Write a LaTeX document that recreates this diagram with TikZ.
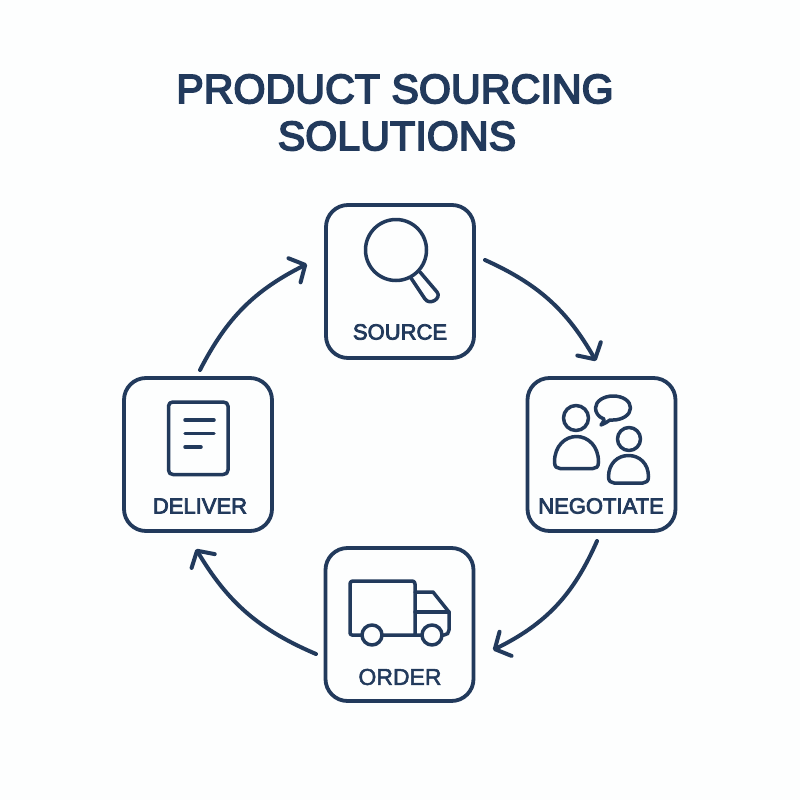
\documentclass[tikz,border=0pt]{standalone}
\usepackage{fontspec}
\setmainfont{Liberation Sans}
\newfontfamily\capfont[FakeBold=3.6]{Liberation Sans}
\newfontfamily\ordfont[FakeBold=2.2]{Liberation Sans}
\newfontfamily\headfont[FakeBold=4.2,LetterSpace=0.4]{Liberation Sans}
\usetikzlibrary{arrows.meta,positioning}
\definecolor{navy}{HTML}{223A5C}
\definecolor{paper}{HTML}{FDFEFE}
\tikzset{
  x=1pt,y=-1pt,
  card/.style={draw=navy,line width=3.8pt,rounded corners=22pt,minimum width=148pt,minimum height=153pt,inner sep=0pt},
  glyph/.style={draw=navy,line width=3.5pt,line join=round,line cap=round},
  flow/.style={draw=navy,line width=4pt,line cap=round,-{Straight Barb[length=12pt,width=27pt,line width=4pt,round]}},
  caption/.style={text=navy,font=\fontsize{22}{24}\capfont,inner sep=0pt,anchor=center},
  ordcaption/.style={text=navy,font=\fontsize{23}{24}\ordfont,inner sep=0pt,anchor=center},
  titleline/.style={text=navy,font=\fontsize{41}{46}\headfont,inner sep=0pt,anchor=center}
}
\begin{document}
\begin{tikzpicture}
\path[use as bounding box,fill=paper] (0,0) rectangle (800,800);
\node[titleline] (t1) at (395,89) {PRODUCT SOURCING};
\node[titleline] (t2) at (397,136) {SOLUTIONS};
\node[card] (source) at (400,281.5) {};
\node[card] (negotiate) at (601.5,454.5) {};
\node[card] (order) at (399.5,624.5) {};
\node[card] (deliver) at (198,454.5) {};
\node[caption] (lsource) at (400,332) {SOURCE};
\node[caption] (lnegotiate) at (601,506) {NEGOTIATE};
\node[ordcaption] (lorder) at (400,677) {ORDER};
\node[caption] (ldeliver) at (200,506) {DELIVER};
% connectors
\coordinate (a1s) at (485,260); \coordinate (a1e) at (596,361);
\coordinate (a2s) at (597,541); \coordinate (a2e) at (493,650);
\coordinate (a3s) at (316,654); \coordinate (a3e) at (196,549);
\coordinate (a4s) at (200,370); \coordinate (a4e) at (307,264);
\draw[flow] (a1s) to[bend left=18] (a1e);
\draw[flow] (a2s) to[bend left=20] (a2e);
\draw[flow] (a3s) to[bend left=18] (a3e);
\draw[flow] (a4s) to[bend left=18] (a4e);
% magnifier
\draw[glyph] (396,250) circle (30.5);
\draw[glyph] (411,278) -- (425,299) .. controls (430,306) and (442,298) .. (437,292) -- (420,272);
% people
\draw[glyph] (576,418) circle (12.5);
\draw[glyph] (554.5,462) .. controls (554.5,446) and (565,436.5) .. (576.5,436.5) .. controls (588,436.5) and (598.5,446) .. (598.5,462) .. controls (598.5,467) and (596,468.5) .. (593,468.5) -- (560,468.5) .. controls (557,468.5) and (554.5,467) .. (554.5,462) -- cycle;
\draw[glyph] (629,439) circle (11.5);
\draw[glyph] (608.5,477) .. controls (608.5,463) and (618,455.5) .. (628.5,455.5) .. controls (639,455.5) and (648.5,463) .. (648.5,477) .. controls (648.5,481) and (646,483) .. (643,483) -- (614,483) .. controls (611,483) and (608.5,481) .. (608.5,477) -- cycle;
\draw[glyph] (601,425) .. controls (603,422) and (604,421) .. (604,419) .. controls (598,417) and (595.5,412) .. (595.5,408) .. controls (595.5,401) and (604,396) .. (613,396) .. controls (623,396) and (630.5,401) .. (630.5,408) .. controls (630.5,415) and (622,420) .. (613,420) -- (610,420) .. controls (607,422) and (604,424) .. (601,425) -- cycle;
% truck
\draw[glyph] (415,635) -- (352,635) .. controls (351,635) and (350,634) .. (350,633) -- (350,584) .. controls (350,582) and (351,581) .. (353,581) -- (412,581) .. controls (414,581) and (415,582) .. (415,584) -- cycle;
\draw[glyph] (415,592) -- (433,592) -- (449,612) -- (449,630) .. controls (449,633) and (447,635) .. (444,635) -- (415,635);
\draw[glyph] (415,612) -- (449,612);
\draw[glyph,fill=paper] (372,635) circle (10);
\draw[glyph,fill=paper] (432,635) circle (10);
% document
\draw[glyph] (168.5,406) .. controls (168.5,403.5) and (170.5,402) .. (173,402) -- (223,402) .. controls (226,402) and (228,403.5) .. (228,406) -- (228,470) .. controls (228,473) and (226,474.5) .. (223,474.5) -- (173,474.5) .. controls (170.5,474.5) and (168.5,473) .. (168.5,470) -- cycle;
\draw[glyph] (185,420) -- (214,420);
\draw[glyph] (185,433.5) -- (214,433.5);
\draw[glyph] (185,447) -- (201,447);
\end{tikzpicture}
\end{document}
